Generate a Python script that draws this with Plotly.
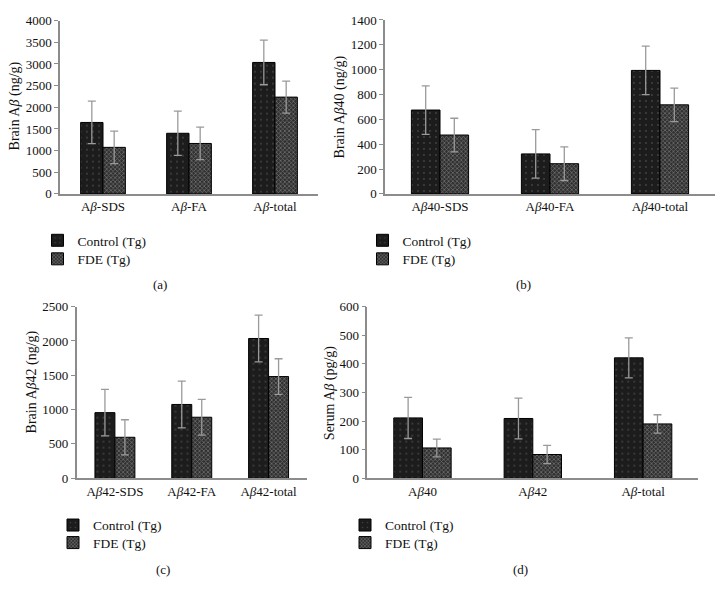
import plotly.graph_objects as go

W, H = 724, 602

# ---------------- data ----------------
a_cats = ["A<i>β</i>-SDS", "A<i>β</i>-FA", "A<i>β</i>-total"]
a_ctrl = [1650, 1400, 3035]
a_ctrl_err = [490, 510, 515]
a_fde = [1075, 1165, 2235]
a_fde_err = [375, 375, 368]

b_cats = ["A<i>β</i>40-SDS", "A<i>β</i>40-FA", "A<i>β</i>40-total"]
b_ctrl = [675, 322, 994]
b_ctrl_err = [195, 195, 195]
b_fde = [474, 243, 717]
b_fde_err = [135, 135, 135]

c_cats = ["A<i>β</i>42-SDS", "A<i>β</i>42-FA", "A<i>β</i>42-total"]
c_ctrl = [956, 1075, 2036]
c_ctrl_err = [340, 340, 340]
c_fde = [597, 889, 1481]
c_fde_err = [255, 260, 260]

d_cats = ["A<i>β</i>40", "A<i>β</i>42", "A<i>β</i>-total"]
d_ctrl = [211, 209, 421]
d_ctrl_err = [72, 71, 70]
d_fde = [106, 83, 190]
d_fde_err = [31, 32, 32]

series_names = ["Control (Tg)", "FDE (Tg)"]
y_titles = ["Brain A<i>β</i> (ng/g)", "Brain A<i>β</i>40 (ng/g)",
            "Brain A<i>β</i>42 (ng/g)", "Serum A<i>β</i> (pg/g)"]
y_ranges = [4000, 1400, 2500, 600]
y_dticks = [500, 200, 500, 100]
captions = ["(a)", "(b)", "(c)", "(d)"]

FONT = "Liberation Serif"

def px(x):
    return x / W

def py(y):
    return 1 - y / H

# panel geometry in pixels: (x0, x1, ytop, ybottom)
panels = [
    (60, 318, 14, 191.7),
    (385, 715, 13.3, 191.7),
    (76.5, 307, 307.3, 483.3),
    (367.3, 698.3, 307.3, 483.3),
]
# legend: left x of legend box, y of first and second rows
legend_pos = [(37.5, 239.5, 258.5), (362.5, 239.5, 258.5),
              (53, 531.5, 549.5), (345, 531.5, 549.5)]
ytitle_pos = [(15, 102), (340, 103), (32, 385), (330, 396)]
caption_pos = [(160, 285), (523, 285), (163, 577), (520, 577)]

ctrl_style = dict(color="#1c1c1c",
                  line=dict(color="#000000", width=1),
                  pattern=dict(shape=".", bgcolor="#1c1c1c", fgcolor="#6a6a6a",
                               size=6, solidity=0.08))
fde_style = dict(color="#3a3a3a",
                 line=dict(color="#000000", width=1),
                 pattern=dict(shape="x", bgcolor="#303030", fgcolor="#a8a8a8",
                              size=3, solidity=0.45))

datasets = [
    (a_cats, a_ctrl, a_ctrl_err, a_fde, a_fde_err),
    (b_cats, b_ctrl, b_ctrl_err, b_fde, b_fde_err),
    (c_cats, c_ctrl, c_ctrl_err, c_fde, c_fde_err),
    (d_cats, d_ctrl, d_ctrl_err, d_fde, d_fde_err),
]

fig = go.Figure()
annotations = []
layout_extra = {}
legend_count = 0

for i, (cats, ctrl, ctrl_err, fde, fde_err) in enumerate(datasets):
    n = i + 1
    xa = "x" if n == 1 else f"x{n}"
    ya = "y" if n == 1 else f"y{n}"
    lx, ly1, ly2 = legend_pos[i]
    for k, (name, vals, errs, style) in enumerate([
        (series_names[0], ctrl, ctrl_err, ctrl_style),
        (series_names[1], fde, fde_err, fde_style),
    ]):
        legend_count += 1
        lg = "legend" if legend_count == 1 else f"legend{legend_count}"
        fig.add_trace(go.Bar(
            x=cats, y=vals, name=name, xaxis=xa, yaxis=ya, legend=lg,
            marker=style,
            error_y=dict(type="data", array=errs, visible=True,
                         color="#9a9a9a", thickness=1.3, width=4),
        ))
        layout_extra[lg] = dict(
            x=px(lx), y=py(ly1 if k == 0 else ly2),
            xanchor="left", yanchor="middle",
            bgcolor="rgba(0,0,0,0)", borderwidth=0,
            font=dict(family=FONT, size=13.5, color="#111"),
            tracegroupgap=0, itemwidth=30,
        )
    x0, x1, yt, yb = panels[i]
    xkey = "xaxis" if n == 1 else f"xaxis{n}"
    ykey = "yaxis" if n == 1 else f"yaxis{n}"
    layout_extra[xkey] = dict(
        domain=[px(x0), px(x1)], anchor=ya, type="category",
        showline=True, linecolor="#8c8c8c", linewidth=1.5,
        ticks="", showgrid=False, zeroline=False,
        tickfont=dict(family=FONT, size=13, color="#111"),
    )
    layout_extra[ykey] = dict(
        domain=[py(yb), py(yt)], anchor=xa,
        range=[0, y_ranges[i]], dtick=y_dticks[i], tick0=0,
        showline=True, linecolor="#8c8c8c", linewidth=1.5,
        ticks="outside", ticklen=4, tickcolor="#8c8c8c", tickwidth=1,
        showgrid=False, zeroline=False,
        tickfont=dict(family=FONT, size=13, color="#111"),
    )
    tx, ty = ytitle_pos[i]
    annotations.append(dict(
        text=y_titles[i], x=px(tx), y=py(ty), xref="paper", yref="paper",
        textangle=-90, showarrow=False, xanchor="center", yanchor="middle",
        font=dict(family=FONT, size=14, color="#111"),
    ))
    cx, cy = caption_pos[i]
    annotations.append(dict(
        text=captions[i], x=px(cx), y=py(cy), xref="paper", yref="paper",
        showarrow=False, xanchor="center", yanchor="middle",
        font=dict(family=FONT, size=13, color="#111"),
    ))

fig.update_layout(
    width=W, height=H,
    margin=dict(l=0, r=0, t=0, b=0),
    paper_bgcolor="white", plot_bgcolor="white",
    barmode="group", bargap=0.48, bargroupgap=0,
    showlegend=True,
    annotations=annotations,
    **layout_extra,
)

fig.write_html("out.html", config={"displayModeBar": False},
               post_script="document.body.style.margin='0px';")
